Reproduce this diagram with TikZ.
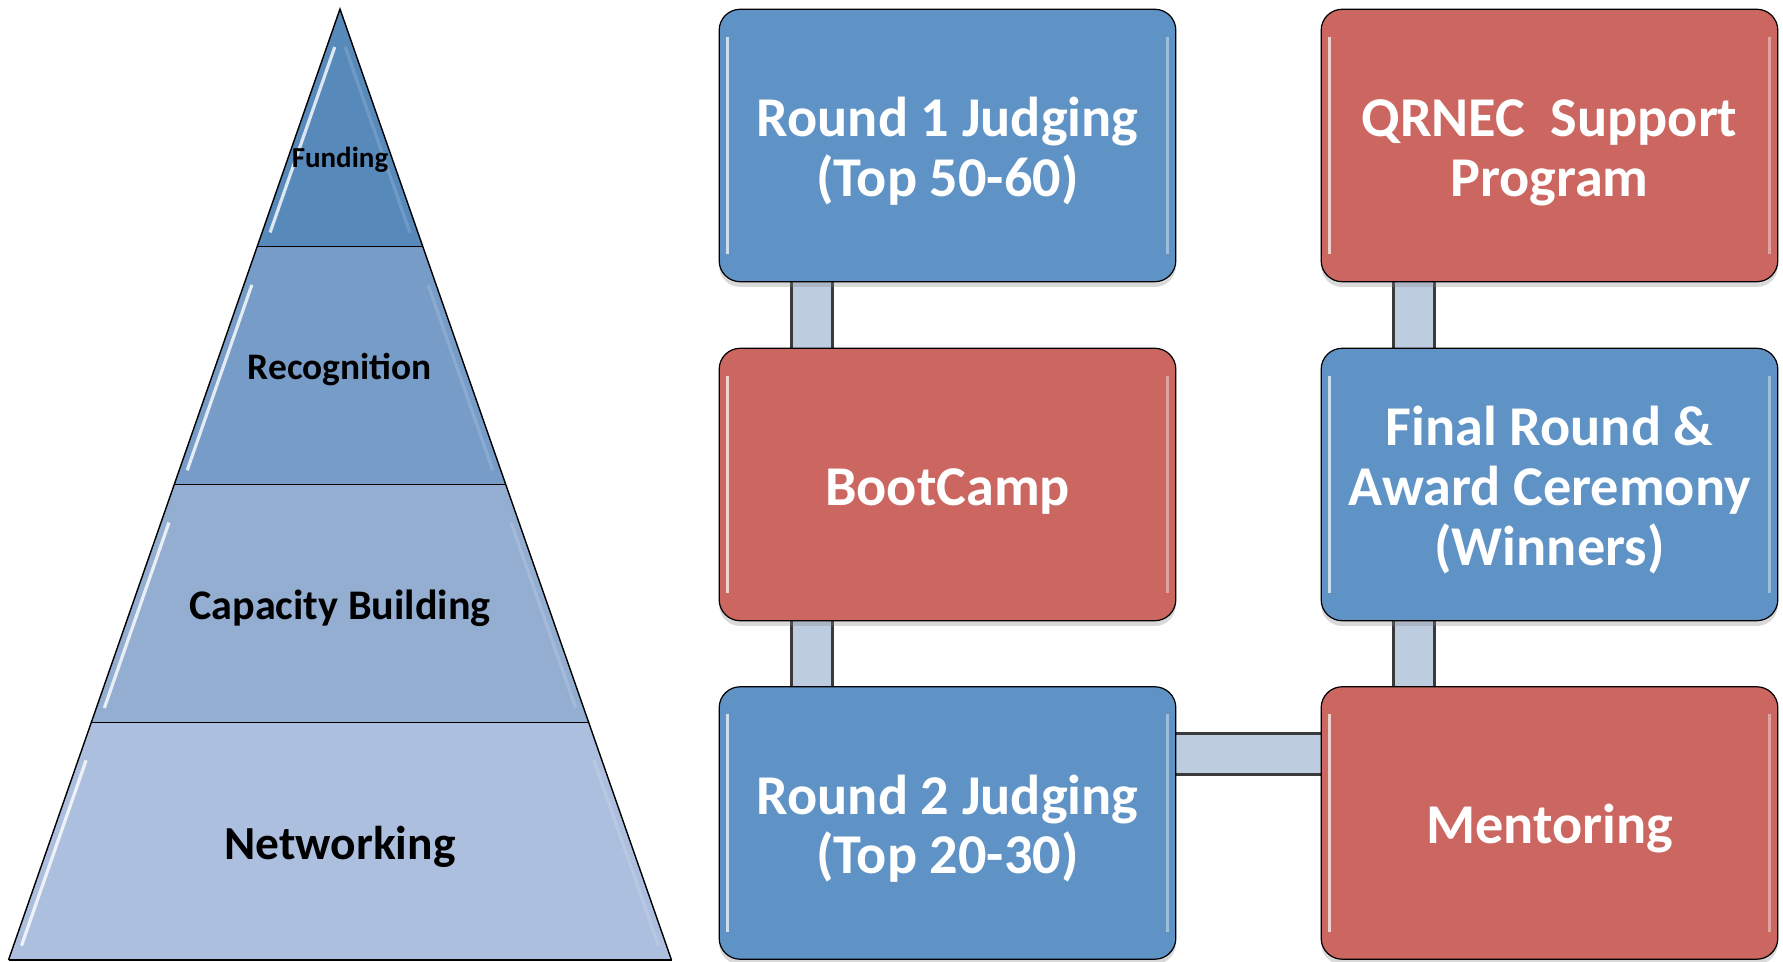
\documentclass[tikz,border=0pt]{standalone}
\usepackage{fontspec}
\setmainfont{Carlito}
\usetikzlibrary{calc,shadows,backgrounds}

\definecolor{boxblue}{RGB}{95,147,198}
\definecolor{boxred}{RGB}{204,102,96}
\definecolor{barfill}{RGB}{190,204,224}
\definecolor{barline}{RGB}{58,58,58}
\definecolor{pyrA}{RGB}{88,137,187}
\definecolor{pyrB}{RGB}{119,156,200}
\definecolor{pyrC}{RGB}{148,174,210}
\definecolor{pyrD}{RGB}{173,191,222}

\tikzset{
  stage/.style={draw=black, line width=0.7pt, rounded corners=0.42cm,
    minimum width=9.1cm, minimum height=5.45cm, text width=8.9cm, align=flush center,
    text=white, font=\bfseries\fontsize{32}{34}\selectfont,
    execute at begin node={\rule{0pt}{29pt}},
    drop shadow={opacity=0.3, shadow xshift=0pt, shadow yshift=-3pt},
    path picture={
      \draw[white, opacity=0.7, line width=2pt] ([xshift=0.17cm, yshift=-0.55cm]path picture bounding box.north west) -- ([xshift=0.17cm, yshift=0.55cm]path picture bounding box.south west);
      \draw[white, opacity=0.4, line width=2pt] ([xshift=-0.17cm, yshift=-0.55cm]path picture bounding box.north east) -- ([xshift=-0.17cm, yshift=0.55cm]path picture bounding box.south east);
    }},
  bluestage/.style={stage, fill=boxblue},
  redstage/.style={stage, fill=boxred},
  link/.style={draw=barline, line width=0.06cm, double=barfill, double distance=0.76cm},
  level/.style={font=\bfseries\fontsize{#1}{#1}\selectfont}
}

\begin{document}
\begin{tikzpicture}[x=0.02cm, y=-0.02cm]
	\useasboundingbox (0,0) rectangle (1783,962);

	% pyramid
	\coordinate (apex) at (340,9);
	\coordinate (bl) at (8.5,960);
	\coordinate (br) at (671.5,960);

	\foreach \a/\b/\col in {0/0.25/pyrA, 0.25/0.5/pyrB, 0.5/0.75/pyrC, 0.75/1/pyrD}{
		\fill[\col] ($(apex)!\a!(bl)$) -- ($(apex)!\b!(bl)$) -- ($(apex)!\b!(br)$) -- ($(apex)!\a!(br)$) -- cycle;
		\draw[white, opacity=0.8, line width=1.8pt] ($(apex)!\a+0.04!(bl) + (8,0)$) -- ($(apex)!\b-0.015!(bl) + (8,0)$);
		\draw[white, opacity=0.15, line width=1.8pt] ($(apex)!\a+0.04!(br) + (-8,0)$) -- ($(apex)!\b-0.015!(br) + (-8,0)$);
	}
	\foreach \b in {0.25,0.5,0.75,1}
		\draw[black, line width=0.8pt] ($(apex)!\b!(bl)$) -- ($(apex)!\b!(br)$);
	\draw[black, line width=0.8pt] (bl) -- (apex) -- (br);

	\node[level=16.5] (funding) at (340,160) {Funding};
	\node[level=21.3] (recognition) at (340,370) {Recognition};
	\node[level=24] (capacity) at (340,608) {Capacity Building};
	\node[level=27] (networking) at (340,847) {Networking};

	% stages
	\node[bluestage] (round1) at (947.5,145.5) {Round 1 Judging\\(Top 50-60)};
	\node[redstage] (bootcamp) at (947.5,484.5) {BootCamp};
	\node[bluestage] (round2) at (947.5,823) {Round 2 Judging\\(Top 20-30)};
	\node[redstage] (qrnec) at (1549.5,145.5) {QRNEC\ \ Support\\Program};
	\node[bluestage] (final) at (1549.5,484.5) {Final Round \&\\Award Ceremony\\(Winners)};
	\node[redstage] (mentoring) at (1549.5,823) {Mentoring};

	\begin{scope}[on background layer]
		\draw[link] ([xshift=1.86cm]round1.south west) -- ([xshift=1.86cm]bootcamp.north west);
		\draw[link] ([xshift=1.86cm]bootcamp.south west) -- ([xshift=1.86cm]round2.north west);
		\draw[link] ([yshift=-1.36cm]round2.north east) -- ([yshift=-1.36cm]mentoring.north west);
		\draw[link] ([xshift=1.86cm]mentoring.north west) -- ([xshift=1.86cm]final.south west);
		\draw[link] ([xshift=1.86cm]final.north west) -- ([xshift=1.86cm]qrnec.south west);
	\end{scope}
\end{tikzpicture}
\end{document}
